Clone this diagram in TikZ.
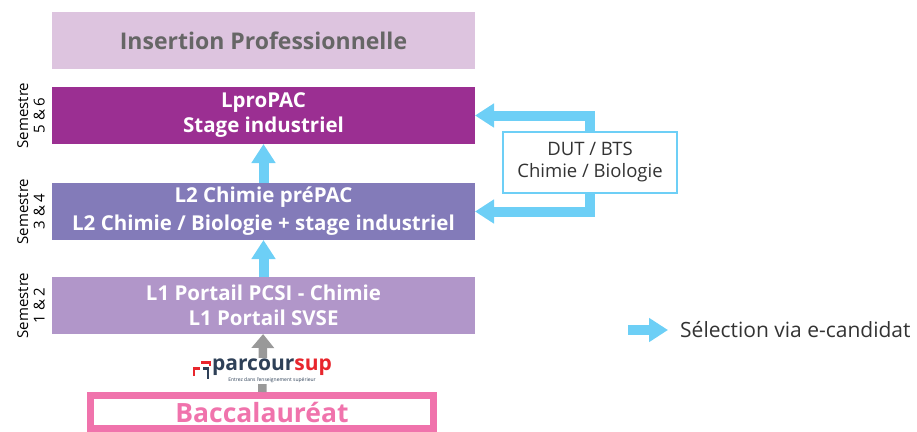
\documentclass[tikz,border=0pt]{standalone}
\usepackage{fontspec}
\setmainfont{Open Sans}
\usetikzlibrary{positioning, arrows.meta, calc}
\definecolor{insertfill}{HTML}{DDC4DF}
\definecolor{insertgray}{HTML}{666666}
\definecolor{lprofill}{HTML}{9B2F92}
\definecolor{ltwofill}{HTML}{837BB9}
\definecolor{lonefill}{HTML}{B196C9}
\definecolor{selblue}{HTML}{6DCFF6}
\definecolor{bacpink}{HTML}{F073AC}
\definecolor{psnavy}{HTML}{2E4057}
\definecolor{psred}{HTML}{E8262D}
\definecolor{textdark}{HTML}{333333}
\definecolor{arrowgray}{HTML}{999999}
\tikzset{
  level/.style={
    rectangle,
    minimum width=423pt,
    minimum height=57pt,
    inner sep=0pt,
    outer sep=0pt,
    align=center,
    text=white,
    font=\bfseries\fontsize{20.5}{25}\selectfont
  },
  semlabel/.style={
    rotate=90,
    align=center,
    inner sep=0pt,
    text=black,
    font=\fontsize{15}{16.5}\selectfont
  },
  selarrow/.style={
    draw=selblue,
    line width=10pt,
    -{Triangle[width=23pt,length=19pt]}
  },
  psarrow/.style={
    draw=arrowgray,
    line width=8.5pt,
    -{Triangle[width=22pt,length=14pt]}
  }
}

\begin{document}
\begin{tikzpicture}[x=1pt, y=-1pt]
    \useasboundingbox (0,0) rectangle (917,431);

    % levels
    \node[level, fill=insertfill, text=insertgray, font=\bfseries\fontsize{23}{25}\selectfont] (insertion) at (263.5,40.5) {Insertion Professionnelle};
    \node[level, fill=lprofill, below=18pt of insertion] (lpro) {LproPAC\\Stage industriel};
    \node[level, fill=ltwofill, below=39pt of lpro, font=\bfseries\fontsize{20.5}{28}\selectfont] (ltwo) {L2 Chimie préPAC\\L2 Chimie / Biologie + stage industriel};
    \node[level, fill=lonefill, below=37pt of ltwo] (lone) {L1 Portail PCSI - Chimie\\L1 Portail SVSE};
    \node[draw=bacpink, line width=7pt, minimum width=343pt, minimum height=33pt, outer sep=3.5pt,
          text=bacpink, font=\bfseries\fontsize{26.5}{30}\selectfont, below=58pt of lone, xshift=-1.5pt] (bac) {Baccalauréat};

    % semesters
    \node[semlabel] (semlpro) at ($(lpro.west)+(-21,0)$) {Semestre\\5 \& 6};
    \node[semlabel] (semltwo) at ($(ltwo.west)+(-21,0)$) {Semestre\\3 \& 4};
    \node[semlabel] (semlone) at ($(lone.west)+(-21,0)$) {Semestre\\1 \& 2};

    % parcoursup
    \draw[psarrow] (bac) -- (lone);
    \node[fill=white, inner sep=1pt, align=center] (psup) at (272,371)
        {{\bfseries\fontsize{21}{19}\selectfont\color{psnavy}parcour\color{psred}sup}\\[-1pt]
         {\fontsize{5}{5}\selectfont\color{psnavy}Entrez dans l'enseignement supérieur}};
    \draw[psred, line width=2.5pt] (194,376) -- (194,368.5) -- (200,368.5);
    \draw[psred, line width=2.5pt] (201,362.5) -- (210,362.5) -- (210,366);
    \draw[psnavy, line width=2.5pt] (203,368.5) -- (208,368.5) -- (208,379);

    % dut / bts
    \node[draw=selblue, line width=2pt, fill=white, minimum width=174pt, minimum height=61pt,
          align=center, text=textdark, font=\fontsize{18.5}{22}\selectfont] (dut) at (590,162.5) {DUT / BTS\\Chimie / Biologie};

    \draw[selarrow] (lone) -- (ltwo);
    \draw[selarrow] (ltwo) -- (lpro);
    \draw[selarrow] (dut.north) |- (lpro.east);
    \draw[selarrow] (dut.south) |- (ltwo.east);

    % legend
    \coordinate (legstart) at (628,330);
    \node[anchor=west, inner sep=0pt, text=textdark, font=\fontsize{21}{22}\selectfont] (legtext) at (680,330) {Sélection via e-candidat};
    \draw[selarrow] (legstart) -- ([xshift=-12pt]legtext.west);
\end{tikzpicture}
\end{document}
